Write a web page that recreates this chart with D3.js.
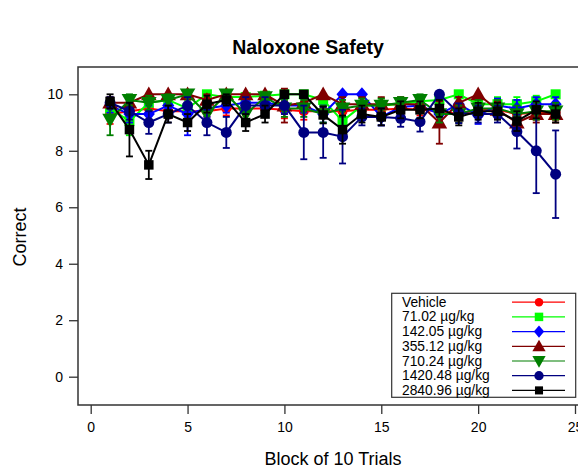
<!DOCTYPE html>
<html><head><meta charset="utf-8">
<script src="https://cdn.jsdelivr.net/npm/d3@7"></script>
<style>body{margin:0;background:#fff}svg{display:block;font-family:"Liberation Sans",Arial,sans-serif}</style>
</head><body><svg id="c" width="578" height="469"></svg>
<script>
const blocks = d3.range(1, 25);
const seriesNames = ["Vehicle","71.02 µg/kg","142.05 µg/kg","355.12 µg/kg","710.24 µg/kg","1420.48 µg/kg","2840.96 µg/kg"];
const seriesColors = ["#ff0000","#00ff00","#0000ff","#800000","#007f00","#000080","#000000"];
const seriesSymbols = ["circle","square","diamond","triangle","triangleDown","circle","square"];

const vehicle    = [9.3,9.4,9.5,9.4,9.4,9.4,9.5,9.5,9.5,9.45,9.4,9.4,9.4,9.45,9.45,9.5,9.45,9.4,9.3,9.45,9.45,9.3,9.35,9.35];
const vehicleErr = [0.35,0.25,0.25,0.25,0.3,0.2,0.25,0.25,0.2,0.3,0.3,0.25,0.25,0.2,0.2,0.25,0.2,0.3,0.3,0.2,0.2,0.3,0.25,0.25];
const d71    = [9.5,9.05,9.7,9.8,9.5,10,9.9,9.9,9.95,10,10,9.8,9.05,9.6,9.6,9.65,9.75,9.8,10,9.65,9.65,9.65,9.75,10];
const d71Err = [0.3,0.5,0.25,0.2,0.3,0,0.1,0.1,0.05,0,0,0.2,0.5,0.25,0.25,0.2,0.2,0.2,0,0.25,0.25,0.25,0.2,0];
const d142    = [9.6,9.3,9.3,9.6,9.3,9.5,9.6,9.7,9.7,9.6,9.6,9.3,10,10,9.2,9.55,9.6,9.3,9.65,9.25,9.6,9.5,9.65,9.65];
const d142Err = [0.25,0.3,0.3,0.25,0.75,0.3,0.25,0.2,0.2,0.25,0.25,0.3,0,0,0.3,0.25,0.25,0.3,0.25,0.3,0.25,0.3,0.25,0.25];
const d355    = [9.7,9.7,10,10,10,9.8,10,10,10,9.6,9.7,10,9.65,9.65,9.65,9.65,9.65,9.0,9.7,10,9.45,9.0,9.3,9.3];
const d355Err = [0.2,0.2,0,0,0,0.2,0,0,0,0.6,0.3,0,0.25,0.25,0.25,0.25,0.25,0.75,0.2,0,0.3,0.3,0.3,0.3];
const d710    = [9.1,9.8,9.7,9.8,10,9.3,10,9.3,9.9,9.5,9.5,9.3,9.5,9.6,9.6,9.7,9.8,9.3,9.3,9.5,9.5,9.3,9.4,9.4];
const d710Err = [0.55,0.2,0.25,0.2,0,0.3,0,0.3,0.1,0.3,0.3,0.3,0.3,0.25,0.25,0.2,0.2,0.3,0.3,0.3,0.3,0.3,0.3,0.3];
const d1420    = [9.7,9.4,9.0,9.3,9.6,9.0,8.65,9.6,9.6,9.6,8.65,8.65,8.5,9.2,9.2,9.15,9.03,10,9.33,9.3,9.3,8.68,8.0,7.17];
const d1420Err = [0.2,0.3,0.4,0.3,0.3,0.45,0.55,0.3,0.3,0.3,0.95,0.9,0.95,0.3,0.3,0.3,0.35,0,0.35,0.3,0.3,0.6,1.5,1.55];
const d2840    = [9.75,8.75,7.5,9.3,9.0,9.65,9.8,9.0,9.3,10,10,9.27,8.75,9.3,9.2,9.45,9.45,9.5,9.2,9.4,9.4,9.05,9.45,9.3];
const d2840Err = [0.25,0.95,0.5,0.3,0.3,0.3,0.2,0.3,0.3,0,0,0.3,0.5,0.3,0.3,0.3,0.3,0.3,0.3,0.3,0.3,0.35,0.3,0.3];

const xTicks = [0,5,10,15,20,25];
const yTicks = [0,2,4,6,8,10];
const seriesValues = [vehicle,d71,d142,d355,d710,d1420,d2840];
const seriesErrs = [vehicleErr,d71Err,d142Err,d355Err,d710Err,d1420Err,d2840Err];

const svg = d3.select("#c");
const x = d3.scaleLinear().domain([0,25]).range([90.7,575]);
const y = d3.scaleLinear().domain([0,10]).range([376.7,94.3]);
const box = {l:78, t:67, b:405, r:620};

// title
svg.append("text").attr("x",308).attr("y",54).attr("text-anchor","middle")
  .attr("font-size",19.5).attr("font-weight","bold").text("Naloxone Safety");
// axis titles
svg.append("text").attr("x",333).attr("y",465).attr("text-anchor","middle")
  .attr("font-size",18).text("Block of 10 Trials");
svg.append("text").attr("transform","translate(26,237) rotate(-90)").attr("text-anchor","middle")
  .attr("font-size",18).text("Correct");

// frame
svg.append("path").attr("d",`M${box.r},${box.t}H${box.l}V${box.b}H${box.r}`)
  .attr("fill","none").attr("stroke","#333").attr("stroke-width",1.5);

// y axis
const yAxis = d3.axisLeft(y).tickValues(yTicks).tickSize(9).tickPadding(6).tickFormat(d3.format("d"));
const gy = svg.append("g").attr("transform",`translate(${box.l},0)`).call(yAxis);
gy.select(".domain").remove();
gy.selectAll(".tick line").attr("stroke","#333").attr("stroke-width",1.3);
gy.selectAll(".tick text").attr("font-size",14).attr("fill","#000").attr("font-family","Liberation Sans, Arial, sans-serif");

// x axis
const xAxis = d3.axisBottom(x).tickValues(xTicks).tickSize(9).tickPadding(8).tickFormat(d3.format("d"));
const gx = svg.append("g").attr("transform",`translate(0,${box.b})`).call(xAxis);
gx.select(".domain").remove();
gx.selectAll(".tick line").attr("stroke","#333").attr("stroke-width",1.3);
gx.selectAll(".tick text").attr("font-size",14).attr("fill","#000").attr("font-family","Liberation Sans, Arial, sans-serif");

function symPath(type, size){
  const s = size;
  if(type==="circle") return d3.symbol(d3.symbolCircle, s*s*0.785)();
  if(type==="square") return d3.symbol(d3.symbolSquare, s*s)();
  if(type==="diamond") return `M0,${-s*0.65}L${s*0.55},0L0,${s*0.65}L${-s*0.55},0Z`;
  if(type==="triangle") return `M0,${-s*0.6}L${s*0.6},${s*0.45}L${-s*0.6},${s*0.45}Z`;
  if(type==="triangleDown") return `M0,${s*0.6}L${s*0.6},${-s*0.45}L${-s*0.6},${-s*0.45}Z`;
}
const markerSize = [10,10,11,13,13,11,9.5];

const plot = svg.append("g");
seriesValues.forEach((vals, si) => {
  const g = plot.append("g");
  const col = seriesColors[si];
  const errs = seriesErrs[si];
  const pts = blocks.map((b,i)=>({b, v:vals[i], e:errs[i]}));
  pts.forEach(p=>{
    if(p.e<=0) return;
    const xx = x(p.b), y1 = y(p.v+p.e), y2 = y(p.v-p.e);
    g.append("line").attr("x1",xx).attr("x2",xx).attr("y1",y1).attr("y2",y2).attr("stroke",col).attr("stroke-width",1.8);
    [y1,y2].forEach(yy=>g.append("line").attr("x1",xx-3.5).attr("x2",xx+3.5).attr("y1",yy).attr("y2",yy).attr("stroke",col).attr("stroke-width",1.8));
  });
  g.append("path").datum(pts).attr("fill","none").attr("stroke",col).attr("stroke-width",2)
    .attr("d", d3.line().x(d=>x(d.b)).y(d=>y(d.v)));
  g.selectAll("path.m").data(pts).join("path").attr("class","m")
    .attr("transform",d=>`translate(${x(d.b)},${y(d.v)})`)
    .attr("d", symPath(seriesSymbols[si], markerSize[si])).attr("fill",col);
});

// legend
const lg = svg.append("g");
lg.append("rect").attr("x",391.7).attr("y",293.3).attr("width",184).attr("height",104)
  .attr("fill","#fff").attr("stroke","#333").attr("stroke-width",1.2);
seriesNames.forEach((n,i)=>{
  const by = 306.7 + i*14.7;
  lg.append("text").attr("x",402).attr("y",by).attr("font-size",13.8).text(n);
  const cy = by - 4.5;
  lg.append("line").attr("x1",512).attr("x2",565).attr("y1",cy).attr("y2",cy).attr("stroke",seriesColors[i]).attr("stroke-width",1.2);
  lg.append("path").attr("transform",`translate(539,${cy})`).attr("d",symPath(seriesSymbols[i], markerSize[i]*0.85)).attr("fill",seriesColors[i]);
});
</script></body></html>
